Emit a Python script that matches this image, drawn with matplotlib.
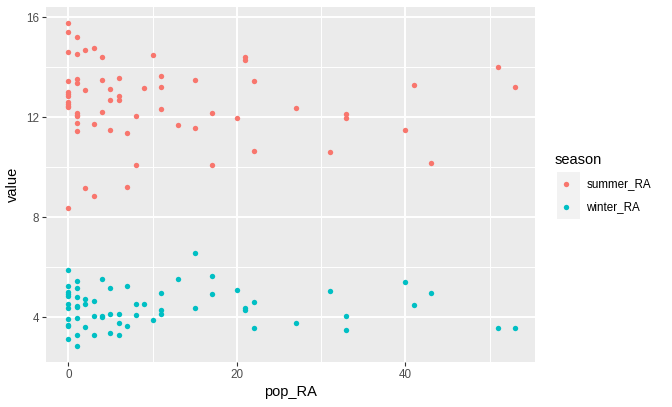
import matplotlib.pyplot as plt
from matplotlib.patches import Rectangle

plt.rcParams['font.family'] = ['Liberation Sans', 'DejaVu Sans']

# summer_RA points
summer_pop = [0, 0, 1, 0, 1, 2, 3, 4, 10,
              0, 1, 1, 4, 6, 15, 2, 5, 9, 11, 11,
              0, 0, 0, 0, 0, 0, 0, 5, 6, 6, 4, 11, 17, 1, 1, 1, 8,
              1, 3, 13, 15, 1, 5, 7, 8, 17, 2, 7, 3, 0,
              21, 21, 22, 20, 27, 33, 33, 22, 31,
              51, 53, 41, 40, 43]
summer_value = [15.76, 15.4, 15.2, 14.6, 14.52, 14.68, 14.76, 14.4, 14.48,
                13.44, 13.52, 13.36, 13.48, 13.56, 13.48, 13.08, 13.12, 13.16, 13.64, 13.2,
                13.0, 12.92, 12.84, 12.6, 12.52, 12.44, 12.4, 12.68, 12.84, 12.68, 12.2, 12.32, 12.16, 12.16, 12.08, 12.04, 12.04,
                11.76, 11.72, 11.68, 11.56, 11.44, 11.48, 11.36, 10.08, 10.08, 9.16, 9.2, 8.84, 8.36,
                14.4, 14.3, 13.44, 11.96, 12.36, 12.12, 11.96, 10.64, 10.6,
                14.0, 13.2, 13.28, 11.48, 10.16]

# winter_RA points
winter_pop = [15, 0, 1, 4, 13, 17, 0, 0, 0, 0, 1, 5, 7, 11, 17, 1, 2, 3, 2, 0,
              0, 1, 1, 8, 9, 15, 11, 11, 3, 4, 4, 5, 6, 8, 10, 0, 1, 0, 0, 6,
              2, 7, 5, 1, 3, 6, 0, 1,
              20, 21, 21, 22, 22, 27, 31, 33, 33,
              40, 43, 41, 51, 53]
winter_value = [6.56, 5.88, 5.44, 5.52, 5.52, 5.64, 5.24, 5.0, 4.92, 4.84, 5.16, 5.16, 5.24, 4.96, 4.92, 4.8, 4.72, 4.64, 4.52, 4.54,
                4.37, 4.44, 4.4, 4.52, 4.52, 4.36, 4.28, 4.12, 4.04, 4.04, 4.0, 4.12, 4.12, 4.08, 3.88, 3.92, 3.96, 3.68, 3.64, 3.76,
                3.6, 3.64, 3.36, 3.28, 3.28, 3.28, 3.12, 2.84,
                5.08, 4.36, 4.28, 4.6, 3.56, 3.76, 5.04, 4.04, 3.48,
                5.4, 4.96, 4.48, 3.56, 3.56]

W, H = 672, 407
fig = plt.figure(figsize=(W / 100, H / 100), dpi=100)
ax = fig.add_axes([46 / W, 1 - 362 / H, (535 - 46) / W, (362 - 7) / H])
ax.set_facecolor('#EBEBEB')
ax.set_xlim(-2.65, 55.37)
ax.set_ylim(2.21, 16.41)

ax.set_xticks([0, 20, 40])
ax.set_yticks([4, 8, 12, 16])
ax.set_xticks([10, 30, 50], minor=True)
ax.set_yticks([6, 10, 14], minor=True)
ax.grid(True, which='major', color='white', linewidth=1.4)
ax.grid(True, which='minor', color='white', linewidth=0.7)
ax.set_axisbelow(True)
for s in ax.spines.values():
    s.set_visible(False)
ax.tick_params(which='major', length=2.7, width=0.8, color='#333333',
               labelsize=8.4, labelcolor='#4D4D4D', pad=2.5)
ax.tick_params(which='minor', length=0)

s1 = ax.scatter(summer_pop, summer_value, s=15, color='#F8766D', linewidths=0)
s2 = ax.scatter(winter_pop, winter_value, s=15, color='#00BFC4', linewidths=0)

ax.set_xlabel('pop_RA', fontsize=10.5, labelpad=3)
ax.set_ylabel('value', fontsize=10.5, labelpad=4)

fig.patches.append(Rectangle((557 / W, 1 - 219 / H), 23 / W, 47 / H,
                             transform=fig.transFigure, facecolor='#F2F2F2',
                             edgecolor='none', zorder=0))
leg = fig.legend(handles=[s1, s2], labels=['summer_RA', 'winter_RA'], title='season',
                 loc='upper left', bbox_to_anchor=(550 / W, 1 - 148 / H),
                 frameon=False, alignment='left', fontsize=8.4, title_fontsize=10.5,
                 handlelength=2.0, handletextpad=0.7, labelspacing=0.95,
                 borderaxespad=0, markerscale=1.0)

fig.savefig('out.png', dpi=100)
